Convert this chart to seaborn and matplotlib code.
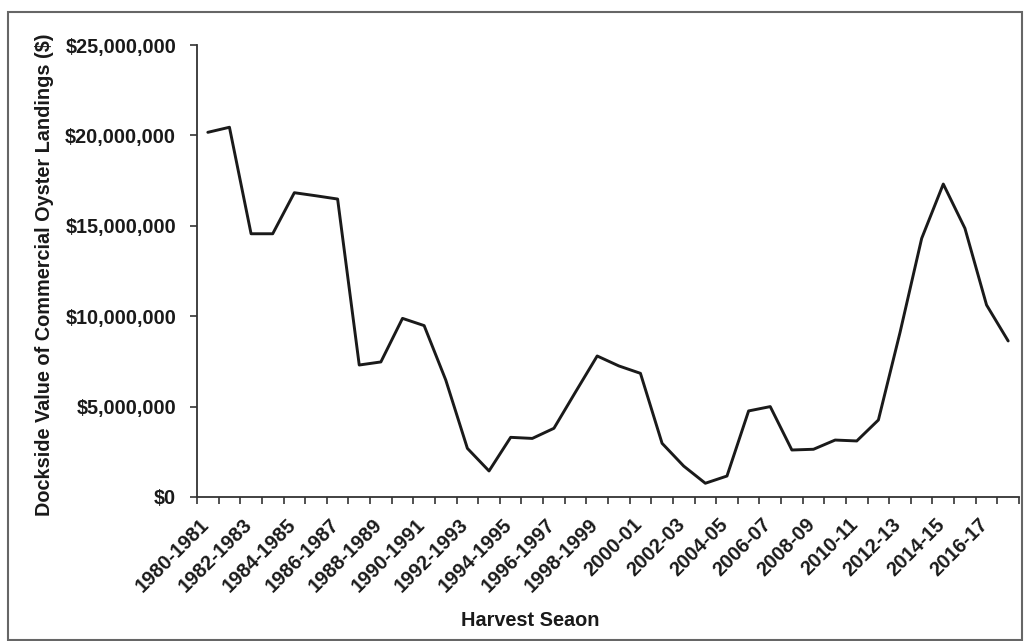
import numpy as np
import pandas as pd
import matplotlib
matplotlib.use("Agg")
import matplotlib.pyplot as plt
import matplotlib.ticker as ticker
import matplotlib.transforms as mtransforms
from matplotlib.patches import Rectangle
import seaborn as sns

# Harvest seasons and dockside value (millions of $)
seasons = ["1980-1981", "1981-1982", "1982-1983", "1983-1984", "1984-1985",
           "1985-1986", "1986-1987", "1987-1988", "1988-1989", "1989-1990",
           "1990-1991", "1991-1992", "1992-1993", "1993-1994", "1994-1995",
           "1995-1996", "1996-1997", "1997-1998", "1998-1999", "1999-00",
           "2000-01", "2001-02", "2002-03", "2003-04", "2004-05", "2005-06",
           "2006-07", "2007-08", "2008-09", "2009-10", "2010-11", "2011-12",
           "2012-13", "2013-14", "2014-15", "2015-16", "2016-17", "2017-18"]
value_millions = [20.17, 20.45, 14.56, 14.56, 16.83, 16.66, 16.48, 7.30, 7.47, 9.88,
                  9.48, 6.47, 2.69, 1.44, 3.30, 3.24, 3.80, 5.81, 7.80, 7.25,
                  6.84, 2.97, 1.71, 0.76, 1.16, 4.76, 5.00, 2.60, 2.64, 3.15,
                  3.10, 4.26, 9.10, 14.30, 17.31, 14.86, 10.62, 8.63]

df = pd.DataFrame({"Season": seasons, "Value": np.array(value_millions) * 1e6})
df["Pos"] = np.arange(len(df))

sns.set_style("ticks")
plt.rcParams["font.family"] = ["Liberation Sans", "DejaVu Sans"]
plt.rcParams["font.weight"] = "bold"

W, H = 1029, 641
fig = plt.figure(figsize=(W / 100, H / 100), dpi=100)
ax = fig.add_axes([197 / W, 1 - 497 / H, 822 / W, 452 / H])

#The line itself
sns.lineplot(data=df, x="Pos", y="Value", color="#1a1a1a", linewidth=2.1, ax=ax)

#Y axis in dollars
ax.set_ylim(0, 25e6)
ax.yaxis.set_major_locator(ticker.MultipleLocator(5e6))
ax.yaxis.set_major_formatter(ticker.FuncFormatter(lambda v, p: "${:,.0f}".format(v)))

#Category axis: ticks on the boundaries, labels on every other category
n = len(seasons)
ax.set_xlim(-0.5, n - 0.5)
ax.xaxis.set_major_locator(ticker.FixedLocator(np.arange(n + 1) - 0.5))
ax.xaxis.set_major_formatter(ticker.NullFormatter())
ax.xaxis.set_minor_locator(ticker.FixedLocator(df["Pos"][::2]))
ax.xaxis.set_minor_formatter(ticker.FixedFormatter(seasons[::2]))
ax.tick_params(axis="x", which="major", length=5, width=1.2, color="#333333", direction="out")
ax.tick_params(axis="x", which="minor", length=0, pad=13, labelsize=14.3, labelcolor="#1a1a1a")
ax.tick_params(axis="y", length=5, width=1.2, color="#333333", direction="out", pad=10,
               labelsize=14.3, labelcolor="#1a1a1a")
#nudge the rotated labels a bit to the right, like the original
shift = mtransforms.ScaledTranslation(5 / 100, 0, fig.dpi_scale_trans)
for lbl in ax.xaxis.get_minorticklabels():
    lbl.set_rotation(45)
    lbl.set_ha("right")
    lbl.set_va("top")
    lbl.set_fontweight("bold")
    lbl.set_transform(lbl.get_transform() + shift)
for lbl in ax.get_yticklabels():
    lbl.set_fontweight("bold")

ax.set_xlabel("")
ax.set_ylabel("")
sns.despine(ax=ax)
for side in ["left", "bottom"]:
    ax.spines[side].set_color("#333333")
    ax.spines[side].set_linewidth(1.3)

#Labels
fig.text(45 / W, 1 - 275 / H, "Dockside Value of Commercial Oyster Landings ($)",
         rotation=90, ha="center", va="center", fontsize=14.3, fontweight="bold", color="#1a1a1a")
fig.text(530 / W, 1 - 620 / H, "Harvest Seaon", ha="center", va="center",
         fontsize=14.3, fontweight="bold", color="#1a1a1a")

#Frame around the whole chart
fig.patches.append(Rectangle((8 / W, 1 - 640 / H), 1014 / W, 628 / H, transform=fig.transFigure,
                             fill=False, edgecolor="#666666", linewidth=1.5))

plt.savefig("out.png", dpi=100)
plt.close()
